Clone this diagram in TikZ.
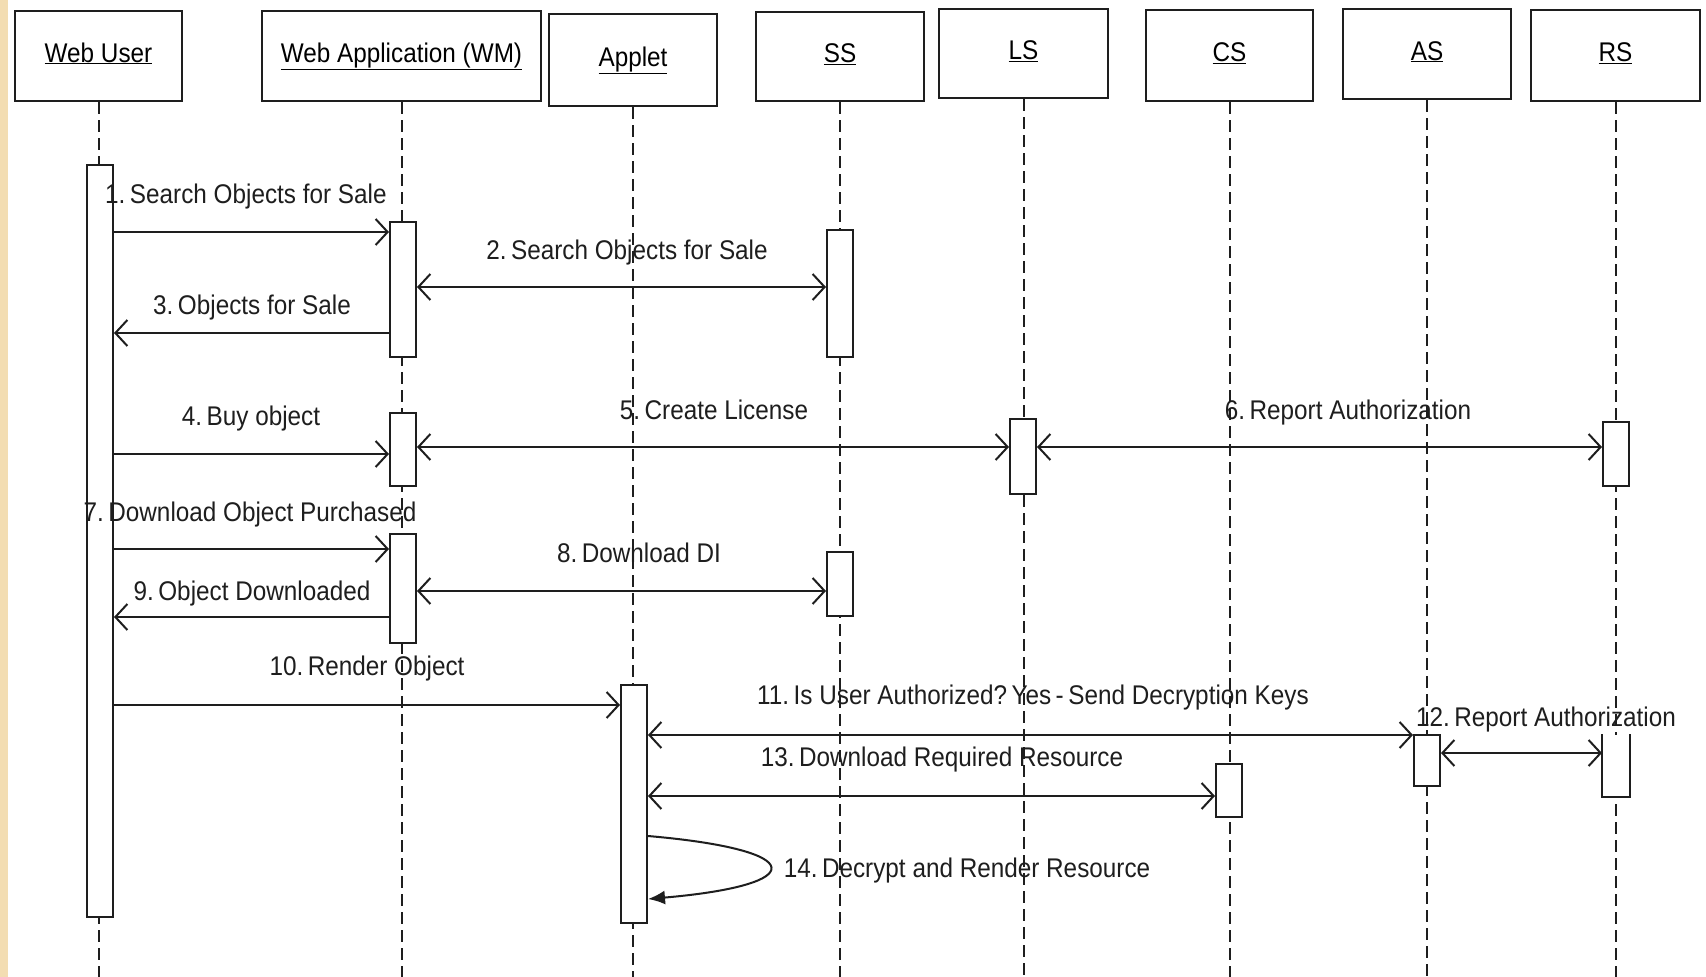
\documentclass[tikz,border=0pt]{standalone}
\usepackage{fontspec}
\setmainfont{Liberation Sans}[FakeStretch=0.9]
\usetikzlibrary{arrows.meta}
\definecolor{strip}{RGB}{243,221,178}
\definecolor{ink}{RGB}{30,30,30}
\tikzset{
  head/.style={draw=ink, line width=2.2pt, fill=white, minimum height=90pt, text height=20pt, text depth=8pt, inner sep=0pt},
  act/.style={draw=ink, line width=2pt, fill=white, minimum width=26pt, inner sep=0pt},
  life/.style={draw=ink, dash pattern=on 12pt off 6pt, line width=2pt},
  tip/.tip={Straight Barb[length=12pt,width=26pt,line width=2pt]},
  msg/.style={draw=ink, line width=2pt, -tip},
  dmsg/.style={draw=ink, line width=2pt, tip-tip},
  lbl/.style={anchor=base, inner sep=0pt, text=ink}
}
\begin{document}
\begin{tikzpicture}[x=1pt, y=-1pt, font=\fontsize{27}{30}\selectfont]
\useasboundingbox (0,0) rectangle (1706,977);
\fill[white] (0,0) rectangle (1706,977);
\fill[strip] (0,0) rectangle (8,977);

% heads
\node[head, minimum width=167pt] (wu) at (98.5,56) {\underline{Web User}};
\node[head, minimum width=279pt] (wm) at (401.5,56) {\underline{Web Application (WM)}};
\node[head, minimum width=168pt, minimum height=92pt] (ap) at (633,60) {\underline{Applet}};
\node[head, minimum width=168pt, minimum height=89pt] (ss) at (840,56.5) {\underline{SS}};
\node[head, minimum width=169pt, minimum height=89pt] (ls) at (1023.5,53.5) {\underline{LS}};
\node[head, minimum width=167pt, minimum height=91pt] (cs) at (1229.5,55.5) {\underline{CS}};
\node[head, minimum width=168pt] (as) at (1427,54) {\underline{AS}};
\node[head, minimum width=169pt, minimum height=91pt] (rs) at (1615.5,55.5) {\underline{RS}};

% lifelines
\foreach \h in {wu,wm,ap,ss,ls,cs,as,rs}
  \draw[life] (\h.south) -- (\h.south |- 0,977);

% activation boxes
\node[act, minimum height=752pt] (wuA) at (100,541) {};
\node[act, minimum height=135pt] (wm1) at (403,289.5) {};
\node[act, minimum height=127pt] (ss1) at (840,293.5) {};
\node[act, minimum height=73pt] (wm2) at (403,449.5) {};
\node[act, minimum height=75pt] (ls1) at (1023,456.5) {};
\node[act, minimum height=64pt] (rs1) at (1616,454) {};
\node[act, minimum height=109pt] (wm3) at (403,588.5) {};
\node[act, minimum height=64pt] (ss2) at (840,584) {};
\node[act, minimum height=238pt] (ap1) at (634,804) {};
\node[act, minimum height=51pt] (as1) at (1427,760.5) {};
\node[act, draw=none, minimum height=61pt] (rs2) at (1616,765.5) {};
\draw[ink, line width=2pt] (rs2.north west) -- (rs2.south west) -- (rs2.south east) -- (rs2.north east);
\node[act, minimum height=53pt] (cs1) at (1229,790.5) {};

% messages
\draw[msg] (wuA.east |- 0,232) -- (wm1.west |- 0,232);
\node[lbl, anchor=base west] (l1) at (105,203) {1.\,Search Objects for Sale};
\draw[dmsg] (wm1.east |- 0,287) -- (ss1.west |- 0,287);
\node[lbl] (l2) at (627,259) {2.\,Search Objects for Sale};
\draw[msg] (wm1.west |- 0,333) -- (wuA.east |- 0,333);
\node[lbl] (l3) at (252,314) {3.\,Objects for Sale};
\draw[msg] (wuA.east |- 0,454) -- (wm2.west |- 0,454);
\node[lbl] (l4) at (251,425) {4.\,Buy object};
\draw[dmsg] (wm2.east |- 0,447) -- (ls1.west |- 0,447);
\node[lbl] (l5) at (714,419) {5.\,Create License};
\draw[dmsg] (ls1.east |- 0,447) -- (rs1.west |- 0,447);
\node[lbl] (l6) at (1348,419) {6.\,Report Authorization};
\draw[msg] (wuA.east |- 0,549) -- (wm3.west |- 0,549);
\node[lbl] (l7) at (250,521) {7.\,Download Object Purchased};
\draw[dmsg] (wm3.east |- 0,591) -- (ss2.west |- 0,591);
\node[lbl] (l8) at (639,562) {8.\,Download DI};
\draw[msg] (wm3.west |- 0,617) -- (wuA.east |- 0,617);
\node[lbl] (l9) at (252,600) {9.\,Object Downloaded};
\draw[msg] (wuA.east |- 0,705) -- (ap1.west |- 0,705);
\node[lbl] (l10) at (367,675) {10.\,Render Object};
\draw[dmsg] (ap1.east |- 0,735) -- (as1.west |- 0,735);
\node[lbl] (l11) at (1033,704) {11.\,Is User Authorized?\,Yes\,-\,Send Decryption Keys};
\draw[dmsg] (as1.east |- 0,753) -- (rs2.west |- 0,753);
\node[lbl] (l12) at (1546,726) {12.\,Report Authorization};
\draw[dmsg] (ap1.east |- 0,796) -- (cs1.west |- 0,796);
\node[lbl] (l13) at (942,766) {13.\,Download Required Resource};
\draw[draw=ink, line width=2pt, -{Latex[length=17pt,width=14pt]}] (ap1.east |- 0,836) .. controls (810,850) and (810,885) .. (ap1.east |- 0,899);
\node[lbl] (l14) at (967,877) {14.\,Decrypt and Render Resource};
\end{tikzpicture}
\end{document}
